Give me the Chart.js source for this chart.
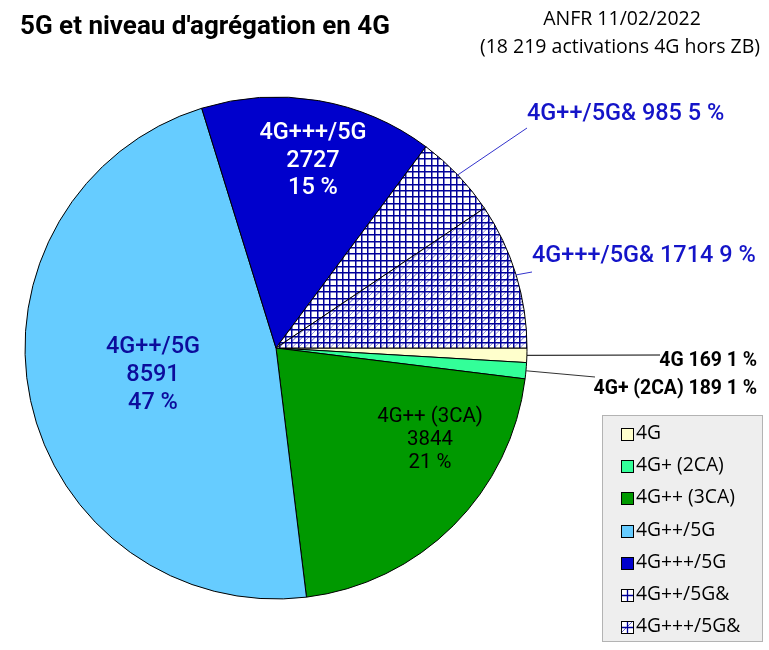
<!DOCTYPE html>
<html><head><meta charset="utf-8">
<script src="https://cdn.jsdelivr.net/npm/chart.js@4.4.1/dist/chart.umd.min.js"></script>
<style>html,body{margin:0;padding:0;background:#fff;}canvas{display:block;}</style>
</head><body>
<div style="width:769px;height:650px;position:relative"><canvas id="c"></canvas></div>
<script>
// ---- data ----
const categories = ['4G', '4G+ (2CA)', '4G++ (3CA)', '4G++/5G', '4G+++/5G', '4G++/5G&', '4G+++/5G&'];
const activations = [169, 189, 3844, 8591, 2727, 985, 1714];
const titleText = "5G et niveau d'agrégation en 4G";
const sourceLines = ['ANFR 11/02/2022', '(18 219 activations 4G hors ZB)'];

// ---- styles ----
function gridPattern(diag) {
  const T = 19, cv = document.createElement('canvas');
  cv.width = T; cv.height = T;
  const g = cv.getContext('2d');
  g.fillStyle = '#fff'; g.fillRect(0, 0, T, T);
  if (diag) {
    g.strokeStyle = '#8f8fdc'; g.lineWidth = 1;
    for (let k = 0; k <= 6; k++) {
      const s = k * T / 3;
      g.beginPath(); g.moveTo(s - T, T); g.lineTo(s, 0); g.stroke();
      g.beginPath(); g.moveTo(s, T); g.lineTo(s + T, 0); g.stroke();
    }
  }
  g.fillStyle = '#000099';
  [0, 6, 13].forEach(p => { g.fillRect(p, 0, 1.5, T); g.fillRect(0, p, T, 1.5); });
  return g.createPattern(cv, 'repeat');
}
const fills = ['#ffffcc', '#33ff99', '#009900', '#66ccff', '#0000cc', gridPattern(false), gridPattern(true)];
const hatched = [false, false, false, false, false, true, true];

const total = activations.reduce((a, b) => a + b, 0);
const pct = v => Math.round(v / total * 100) + ' %';

function txt(ctx, s, x, y, font, color, align) {
  ctx.save();
  ctx.font = font; ctx.fillStyle = color; ctx.textBaseline = 'middle'; ctx.textAlign = align || 'left';
  ctx.fillText(s, x, y);
  ctx.restore();
}

// label layout: inside (offset of label block centre from pie centre) or outside (leader end + text)
const labelLayout = [
  { type: 'out', end: [660, 355], tx: 757, ty: 361, align: 'right', font: 'bold 19.4px Roboto', color: '#000', line: '#000' },
  { type: 'out', end: [595, 377], tx: 757, ty: 389, align: 'right', font: 'bold 19.4px Roboto', color: '#000', line: '#333' },
  { type: 'in', dx: 154, dy: 92, gap: 23, font: '20.4px Roboto', color: '#000' },
  { type: 'in', dx: -123, dy: 27, gap: 28, font: '500 23.5px Roboto', color: '#0c0c9c' },
  { type: 'in', dx: 37, dy: -187, gap: 27.5, font: '500 23.5px Roboto', color: '#ffffff' },
  { type: 'out', end: [527, 128], tx: 527, ty: 114, align: 'left', font: '500 23.5px Roboto', color: '#1414c8', line: '#3333cc' },
  { type: 'out', end: [532, 272], tx: 532, ty: 256, align: 'left', font: '500 23.5px Roboto', color: '#1414c8', line: '#3333cc' }
];

const deco = {
  id: 'deco',
  afterDraw(chart) {
    const ctx = chart.ctx;
    const meta = chart.getDatasetMeta(0);
    // title
    txt(ctx, titleText, 20, 27, 'bold 26px Roboto', '#000', 'left');
    txt(ctx, sourceLines[0], 622, 19, '19.5px "Open Sans"', '#000', 'center');
    txt(ctx, sourceLines[1], 620, 47, '19.5px "Open Sans"', '#000', 'center');
    // slice labels
    meta.data.forEach((arc, i) => {
      const L = labelLayout[i];
      const v = activations[i];
      const p = arc.getProps(['x', 'y', 'startAngle', 'endAngle', 'outerRadius'], true);
      if (L.type === 'in') {
        const cx = p.x + L.dx, cy = p.y + L.dy;
        txt(ctx, categories[i], cx, cy - L.gap, L.font, L.color, 'center');
        txt(ctx, String(v), cx, cy, L.font, L.color, 'center');
        txt(ctx, pct(v), cx, cy + L.gap, L.font, L.color, 'center');
      } else {
        const mid = (p.startAngle + p.endAngle) / 2;
        const sx = p.x + Math.cos(mid) * p.outerRadius, sy = p.y + Math.sin(mid) * p.outerRadius;
        ctx.save();
        ctx.strokeStyle = L.line; ctx.lineWidth = 1;
        ctx.beginPath(); ctx.moveTo(sx, sy); ctx.lineTo(L.end[0], L.end[1]); ctx.stroke();
        ctx.restore();
        txt(ctx, categories[i] + ' ' + v + ' ' + pct(v), L.tx, L.ty, L.font, L.color, L.align);
      }
    });
    // legend
    const bx = 602, by = 415, bw = 160, bh = 226;
    ctx.save();
    ctx.fillStyle = '#eeeeee'; ctx.fillRect(bx, by, bw, bh);
    ctx.strokeStyle = '#b3b3b3'; ctx.lineWidth = 1; ctx.strokeRect(bx + 0.5, by + 0.5, bw, bh);
    categories.forEach((c, i) => {
      const y = Math.round(434 + i * 32.2);
      const x0 = 621, s = 12, top = y - 6;
      if (hatched[i]) {
        ctx.fillStyle = '#fff'; ctx.fillRect(x0, top, s, s);
        if (i === 6) {
          ctx.strokeStyle = '#6f6fcc'; ctx.lineWidth = 1;
          ctx.beginPath(); ctx.moveTo(x0 + 1, top + s - 1); ctx.lineTo(x0 + s - 1, top + 1); ctx.stroke();
        }
        ctx.strokeStyle = '#000099'; ctx.lineWidth = 1.3;
        ctx.beginPath();
        ctx.moveTo(x0 + s / 2 + 0.5, top); ctx.lineTo(x0 + s / 2 + 0.5, top + s);
        ctx.moveTo(x0, top + s / 2 + 0.5); ctx.lineTo(x0 + s, top + s / 2 + 0.5);
        ctx.stroke();
      } else {
        ctx.fillStyle = fills[i]; ctx.fillRect(x0, top, s, s);
      }
      ctx.strokeStyle = '#000'; ctx.lineWidth = 1; ctx.strokeRect(x0 + 0.5, top + 0.5, s, s);
      txt(ctx, c, 636, y, '19.3px "Open Sans"', '#000', 'left');
    });
    ctx.restore();
  }
};

new Chart(document.getElementById('c'), {
  type: 'pie',
  data: {
    labels: categories,
    datasets: [{
      data: activations,
      backgroundColor: fills,
      borderColor: '#000',
      borderWidth: 1
    }]
  },
  options: {
    responsive: true,
    maintainAspectRatio: false,
    animation: false,
    rotation: 90,
    radius: 251,
    layout: { padding: { left: 20, right: 237, top: 96, bottom: 50 } },
    plugins: { legend: { display: false }, tooltip: { enabled: false }, title: { display: false } }
  },
  plugins: [deco]
});
</script>
</body></html>
